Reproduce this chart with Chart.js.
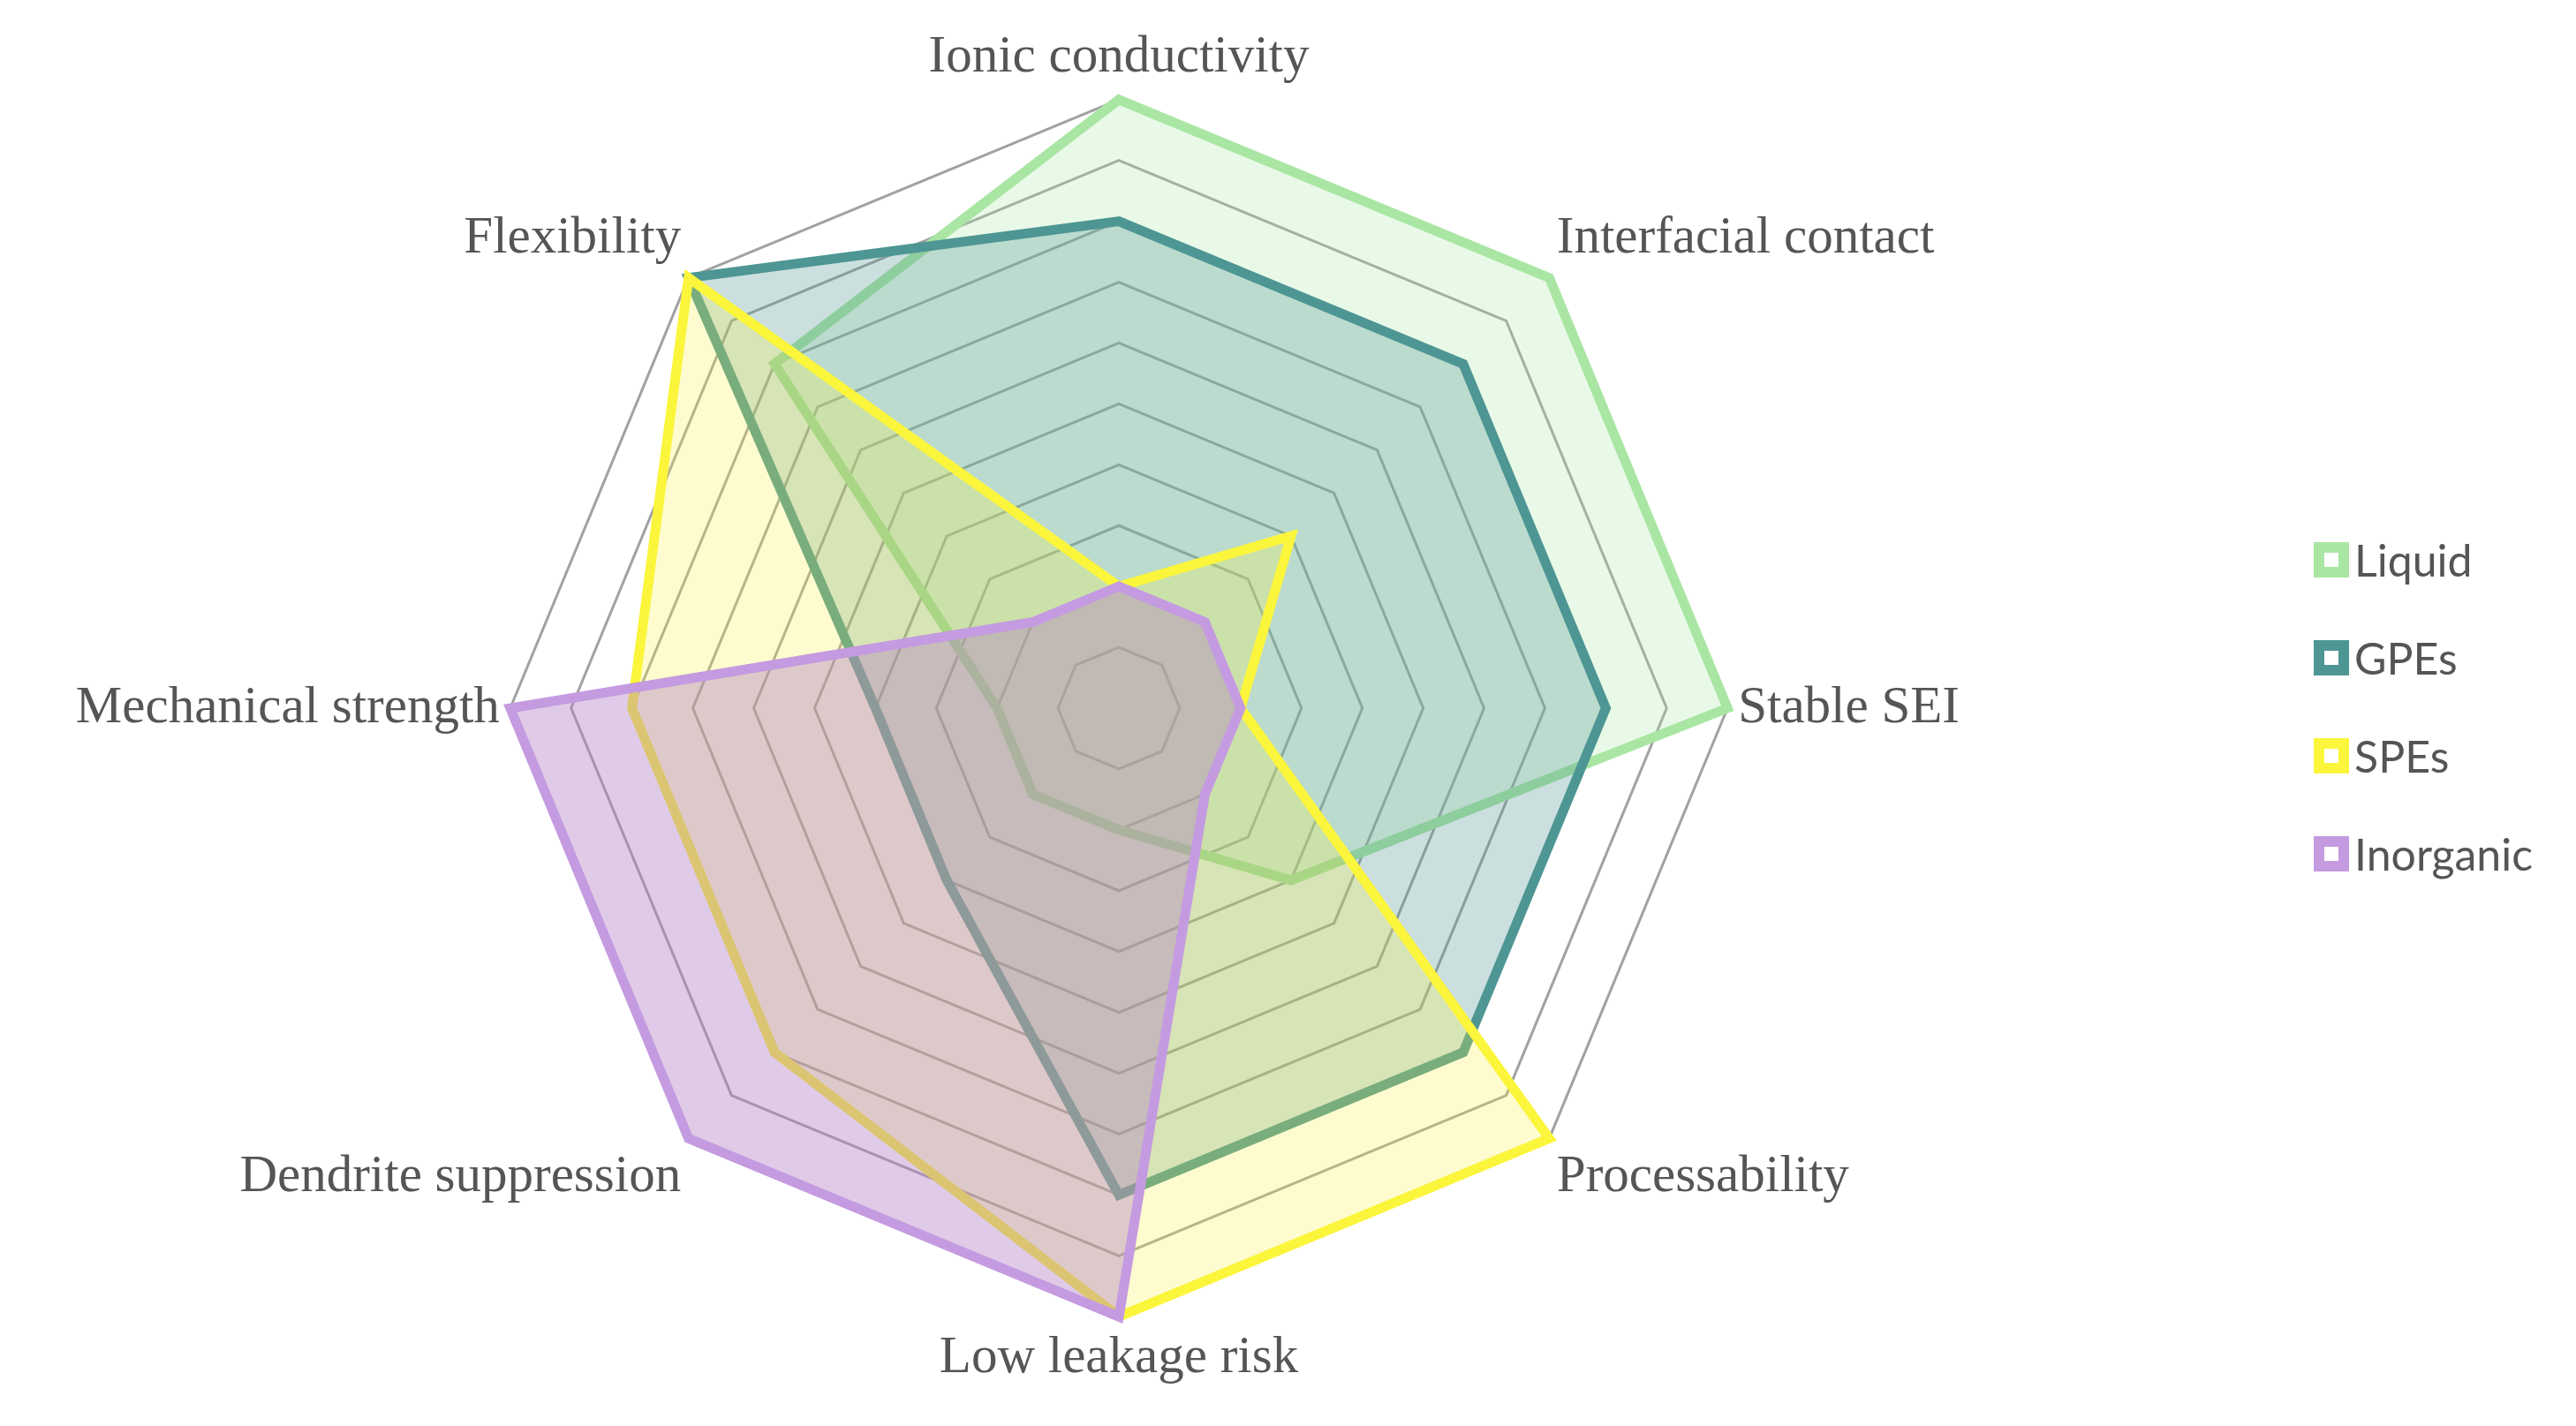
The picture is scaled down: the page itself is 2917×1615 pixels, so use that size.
<!DOCTYPE html>
<html>
<head>
<meta charset="utf-8">
<script src="https://cdn.jsdelivr.net/npm/chart.js@4.4.0/dist/chart.umd.min.js"></script>
<style>
  html, body { margin: 0; padding: 0; background: #fff; }
  #wrap { position: relative; width: 2917px; height: 1615px; }
  #legend { position: absolute; left: 2620px; top: 578px; font-family: Lato, sans-serif; font-size: 50px; color: #555; }
  #legend div { display: flex; align-items: center; height: 111px; }
  #legend span.box { width: 40px; height: 40px; margin-right: 6px; box-sizing: border-box; border: 12px solid; }
</style>
</head>
<body>
<div id="wrap">
  <canvas id="radar" width="2917" height="1615"></canvas>
  <div id="legend"></div>
</div>
<script>
/* ── Data ── */
const categories = ['Ionic conductivity', 'Interfacial contact', 'Stable SEI', 'Processability',
                    'Low leakage risk', 'Dendrite suppression', 'Mechanical strength', 'Flexibility'];
const liquid    = [10, 10, 10, 4, 2, 2, 2, 8];
const gpes      = [8, 8, 8, 8, 8, 4, 4, 10];
const spes      = [2, 4, 2, 10, 10, 8, 8, 10];
const inorganic = [2, 2, 2, 2, 10, 10, 10, 2];

const SERIES = [
  { label: 'Liquid',    data: liquid,    color: '#a9e6a3', fill: 'rgba(169,230,163,0.25)' },
  { label: 'GPEs',      data: gpes,      color: '#4e9693', fill: 'rgba(78,150,147,0.30)' },
  { label: 'SPEs',      data: spes,      color: '#fbf53c', fill: 'rgba(251,245,60,0.25)' },
  { label: 'Inorganic', data: inorganic, color: '#c49be0', fill: 'rgba(175,125,195,0.40)' }
];

new Chart(document.getElementById('radar'), {
  type: 'radar',
  data: {
    labels: categories,
    datasets: SERIES.map((s, i) => ({
      label: s.label,
      data: s.data,
      borderColor: s.color,
      backgroundColor: s.fill,
      borderWidth: 11,
      pointRadius: 0,
      fill: true,
      order: SERIES.length - 1 - i   // later series drawn on top
    }))
  },
  options: {
    responsive: false,
    animation: false,
    layout: { padding: { left: 0, right: 383, top: 30, bottom: 40 } },
    plugins: { legend: { display: false }, tooltip: { enabled: false } },
    scales: {
      r: {
        min: 0, max: 10,
        ticks: { display: false, stepSize: 1 },
        angleLines: { display: false },
        grid: { color: 'rgba(130,130,130,0.75)', lineWidth: 3 },
        pointLabels: { color: '#555', font: { family: 'Liberation Serif', size: 59 }, padding: 12 }
      }
    }
  }
});

/* ── Legend ── */
const lg = document.getElementById('legend');
SERIES.forEach(s => {
  const row = document.createElement('div');
  row.innerHTML = `<span class="box" style="border-color:${s.color};background:#fff"></span>${s.label}`;
  lg.appendChild(row);
});
</script>
</body>
</html>
